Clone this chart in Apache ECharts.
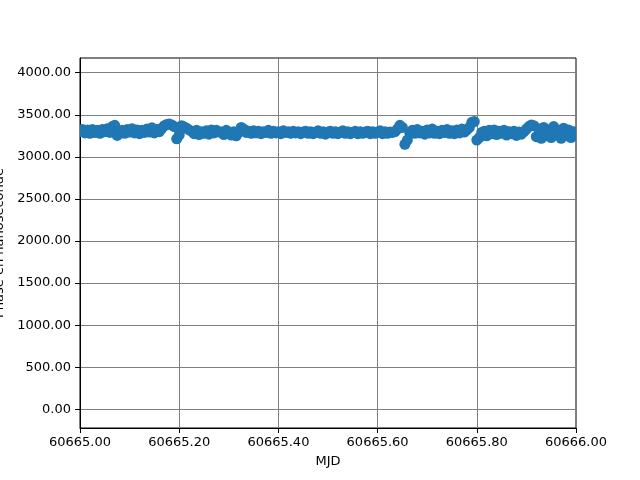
<!DOCTYPE html>
<html>
<head>
<meta charset="utf-8">
<script src="https://cdn.jsdelivr.net/npm/echarts@6/dist/echarts.min.js"></script>
<style>html,body{margin:0;padding:0;background:#fff;}#c{width:640px;height:480px;}</style>
</head>
<body>
<div id="c"></div>
<script>
const mjdBase = 60665;
const mjdOffset = [
0,0.005,0.01,0.015,0.02,0.025,0.03,0.035,0.04,0.045,
0.05,0.055,0.06,0.065,0.07,0.075,0.08,0.085,0.09,0.095,
0.1,0.105,0.11,0.115,0.12,0.125,0.13,0.135,0.14,0.145,
0.15,0.155,0.16,0.165,0.17,0.175,0.18,0.185,0.19,0.195,
0.2,0.205,0.21,0.215,0.22,0.225,0.23,0.235,0.24,0.245,
0.25,0.255,0.26,0.265,0.27,0.275,0.28,0.285,0.29,0.295,
0.3,0.305,0.31,0.315,0.32,0.325,0.33,0.335,0.34,0.345,
0.35,0.355,0.36,0.365,0.37,0.375,0.38,0.385,0.39,0.395,
0.4,0.405,0.41,0.415,0.42,0.425,0.43,0.435,0.44,0.445,
0.45,0.455,0.46,0.465,0.47,0.475,0.48,0.485,0.49,0.495,
0.5,0.505,0.51,0.515,0.52,0.525,0.53,0.535,0.54,0.545,
0.55,0.555,0.56,0.565,0.57,0.575,0.58,0.585,0.59,0.595,
0.6,0.605,0.61,0.615,0.62,0.625,0.63,0.635,0.64,0.645,
0.65,0.655,0.66,0.665,0.67,0.675,0.68,0.685,0.69,0.695,
0.7,0.705,0.71,0.715,0.72,0.725,0.73,0.735,0.74,0.745,
0.75,0.755,0.76,0.765,0.77,0.775,0.78,0.785,0.79,0.795,
0.8,0.805,0.81,0.815,0.82,0.825,0.83,0.835,0.84,0.845,
0.85,0.855,0.86,0.865,0.87,0.875,0.88,0.885,0.89,0.895,
0.9,0.905,0.91,0.915,0.92,0.925,0.93,0.935,0.94,0.945,
0.95,0.955,0.96,0.965,0.97,0.975,0.98,0.985,0.99,0.995,
1
];
const phaseNs = [
3300,3325,3285,3320,3280,3325,3290,3315,3280,3325,
3300,3335,3290,
3360,3375,3255,3290,
3315,3280,3325,3295,3335,3285,3320,3275,3315,3290,3330,3295,3345,3285,3325,3300,
3340,3370,3385,3390,3380,3360,
3215,3260,
3370,3355,3340,3320,
3305,3275,3315,3265,3300,3280,3310,3270,3320,3285,3315,3295,3295,3265,3315,3275,
3260,3300,3250,3290,
3350,3330,3290,
3305,3280,3310,3285,3305,3275,3300,3290,3315,3280,3305,3285,3300,3275,3310,3290,3300,3280,3305,3285,3300,3275,3295,
3305,3280,3300,3275,3295,3310,3280,3300,3270,3295,3305,3280,3300,3275,3295,3310,3280,3300,3275,3290,3305,3275,3300,3280,3295,3305,3275,3300,3280,3295,3310,3275,3300,3280,3295,3290,
3300,3330,
3375,3350,3150,3200,3280,
3315,3280,3325,3285,3305,3270,3320,3285,3330,3280,3305,3275,3315,3290,3325,3280,3310,3275,3320,3285,3330,3295,3320,
3350,3410,3420,3200,3230,3290,
3305,3250,3315,3275,3320,3265,3305,3280,3315,3260,3300,3275,3305,3255,3295,3270,
3300,3330,3360,3380,3370,
3240,3330,3220,3350,3250,3320,3230,3360,3260,3310,3220,3340,3250,3320,3230,3300,3260
];
const xTicks = [60665, 60665.2, 60665.4, 60665.6, 60665.8, 60666];
const yTicks = [0, 500, 1000, 1500, 2000, 2500, 3000, 3500, 4000];
const xName = 'MJD';
const yName = 'Phase en nanoseconde';

const n = Math.min(mjdOffset.length, phaseNs.length);
const pts = [];
for (let i = 0; i < n; i++) pts.push([mjdBase + mjdOffset[i], phaseNs[i]]);

const font = 'DejaVu Sans';
const markerSize = 11;
const chart = echarts.init(document.getElementById('c'), null, {renderer: 'canvas'});
chart.setOption({
  backgroundColor: '#ffffff',
  animation: false,
  grid: {left: 80, right: 64, top: 58, bottom: 52, show: true, borderColor: '#000', borderWidth: 1, backgroundColor: 'transparent'},
  xAxis: {
    type: 'value', min: 60665, max: 60666,
    name: xName, nameLocation: 'middle', nameGap: 27,
    nameTextStyle: {fontFamily: font, fontSize: 13, color: '#000'},
    axisLine: {show: true, onZero: false, lineStyle: {color: '#000', width: 1}},
    axisTick: {show: true, inside: false, length: 5, lineStyle: {color: '#000'}, customValues: xTicks},
    axisLabel: {fontFamily: font, fontSize: 13, color: '#000', margin: 8, customValues: xTicks, formatter: v => v.toFixed(2)},
    splitLine: {show: true, lineStyle: {color: '#808080', width: 1}}
  },
  yAxis: {
    type: 'value', min: -222, max: 4175,
    axisLine: {show: true, onZero: false, lineStyle: {color: '#000', width: 1}},
    axisTick: {show: true, inside: false, length: 5, lineStyle: {color: '#000'}, customValues: yTicks},
    axisLabel: {fontFamily: font, fontSize: 13, color: '#000', margin: 9, customValues: yTicks, formatter: v => v.toFixed(2)},
    splitLine: {show: true, lineStyle: {color: '#808080', width: 1}}
  },
  graphic: [{
    type: 'text', x: 6, y: 243, rotation: Math.PI / 2,
    style: {text: yName, fontFamily: font, fontSize: 13, fill: '#000', textAlign: 'center', textVerticalAlign: 'bottom'}
  }],
  series: [{
    type: 'custom', data: pts, clip: true,
    encode: {x: 0, y: 1},
    renderItem: function (params, api) {
      const c = api.coord([api.value(0), api.value(1)]);
      return {
        type: 'circle',
        shape: {cx: c[0], cy: c[1], r: markerSize / 2},
        style: {fill: '#1f77b4'}
      };
    }
  }]
});
</script>
</body>
</html>
